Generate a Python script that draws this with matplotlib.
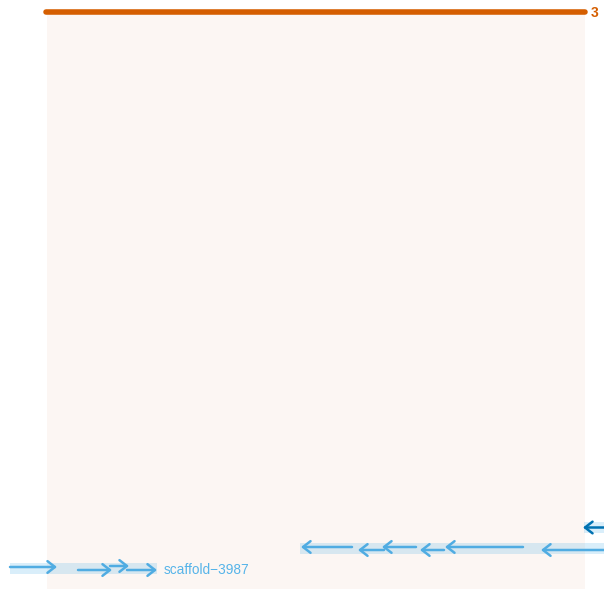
import matplotlib
matplotlib.use("Agg")
import matplotlib.pyplot as plt
from matplotlib.patches import Rectangle

plt.rcParams['font.family'] = ['Liberation Sans', 'DejaVu Sans']

# panel / link track (pixel-like genome coordinates)
panel_x = [47, 585]
panel_y = [14, 589]
link_start, link_end, link_y = 46, 585, 12
link_label = "3"

# sequence bands: (name, start, end, y)
seq_names = ["scaffold-3987", "seq_b", "seq_c"]
seq_start = [10, 300, 584]
seq_end = [157, 604, 604]
seq_y = [568.5, 548, 527.5]
seq_label = ["scaffold\u22123987", "", ""]

# genes on each sequence
gene_seq = [0, 0, 0, 0, 1, 1, 1, 1, 1, 1, 2]
gene_from = [10, 78, 110, 127, 352, 384, 416, 444, 523, 604, 604]
gene_to = [57, 112, 129, 157, 301, 358, 382, 420, 445, 541, 583]
gene_dy = [-1.5, 1.5, -2.5, 1.5, -1, 2, -1, 2, -1, 2, 0]
gene_col = ["#50acE2"] * 10 + ["#0072B2"]

fig = plt.figure(figsize=(6.04, 5.89), dpi=100)
ax = fig.add_axes([0, 0, 1, 1])
ax.set_xlim(0, 604)
ax.set_ylim(589, 0)
ax.axis('off')

ax.add_patch(Rectangle((panel_x[0], panel_y[0]), panel_x[1] - panel_x[0],
                       panel_y[1] - panel_y[0], color='#fcf6f3', lw=0, zorder=0))

ax.plot([link_start, link_end], [link_y, link_y], color='#D55E00', lw=4,
        solid_capstyle='round', zorder=3)
ax.text(link_end + 6, link_y + 1, link_label, color='#D55E00', fontsize=10,
        fontweight='bold', va='center', ha='left')

for i in range(len(seq_names)):
    ax.add_patch(Rectangle((seq_start[i], seq_y[i] - 5.5), seq_end[i] - seq_start[i], 11,
                           color='#56B4E9', alpha=0.22, lw=0, zorder=1))
    if seq_label[i]:
        ax.text(seq_end[i] + 7, seq_y[i] + 1.5, seq_label[i], color='#56B4E9',
                fontsize=9.8, va='center', ha='left')

for s, a, b, dy, c in zip(gene_seq, gene_from, gene_to, gene_dy, gene_col):
    y = seq_y[s] + dy
    ax.annotate('', xy=(b, y), xytext=(a, y),
                arrowprops=dict(arrowstyle='->,head_length=0.45,head_width=0.35', color=c,
                                lw=1.8, shrinkA=0, shrinkB=0, mutation_scale=12),
                zorder=4, annotation_clip=False)

fig.savefig('out.png', dpi=100)
